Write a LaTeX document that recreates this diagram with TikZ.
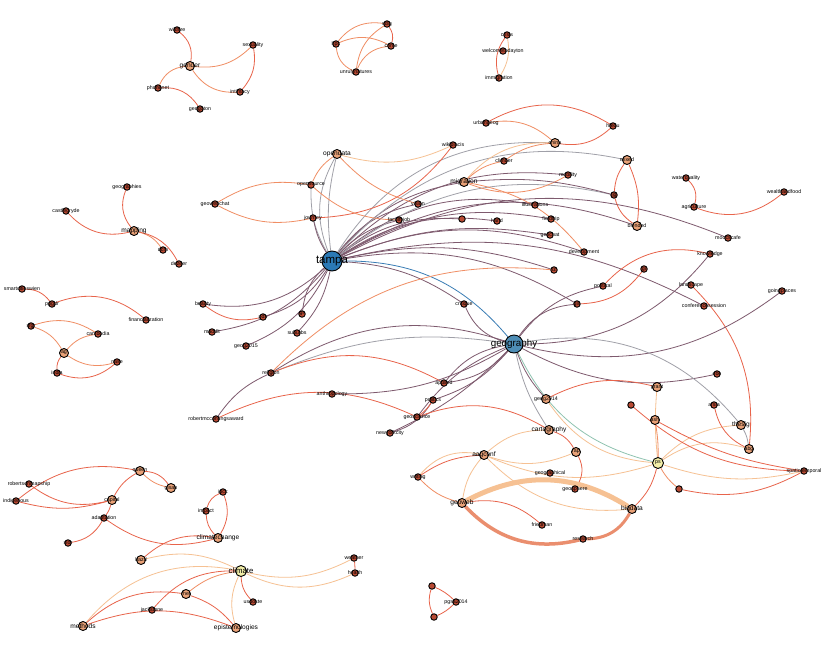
\documentclass[tikz,border=0pt]{standalone}
\usepackage{fontspec}
\setmainfont{Liberation Sans}
\pgfdeclarelayer{bg}
\pgfsetlayers{bg,main}
\definecolor{dnode}{HTML}{B84A33}
\definecolor{lnode}{HTML}{E9A177}
\definecolor{ynode}{HTML}{F3EFA8}
\definecolor{tnode}{HTML}{2B79B5}
\definecolor{gnode}{HTML}{4E8DB5}
\definecolor{cR}{HTML}{E8644B}
\definecolor{cO}{HTML}{F08E64}
\definecolor{cP}{HTML}{F6C193}
\definecolor{cV}{HTML}{7E5A6E}
\definecolor{cG}{HTML}{A0A0A8}
\definecolor{cB}{HTML}{3A7DB5}
\definecolor{cT}{HTML}{8FC3B0}
\definecolor{cK}{HTML}{EA8E6E}
\tikzset{
 dn/.style={circle, draw=black, line width=0.9pt, fill=dnode, inner sep=0pt, minimum size=6.5pt},
 ln/.style={dn, fill=lnode, minimum size=9pt},
 yn/.style={dn, fill=ynode, minimum size=11pt},
 tn/.style={dn, fill=tnode, minimum size=20pt},
 gn/.style={dn, fill=gnode, minimum size=18pt},
 ls/.style={font=\fontsize{5.3}{6}\selectfont, inner sep=0pt},
 lm/.style={font=\fontsize{6.6}{7}\selectfont, inner sep=0pt},
 lc/.style={font=\fontsize{7.8}{8}\selectfont, inner sep=0pt},
 lt/.style={font=\fontsize{11.5}{12}\selectfont, inner sep=0pt},
 lg/.style={font=\fontsize{9.8}{10}\selectfont, inner sep=0pt},
 eR/.style={draw=cR, line width=0.8pt},
 eO/.style={draw=cO, line width=0.8pt},
 eP/.style={draw=cP, line width=0.8pt},
 eV/.style={draw=cV, line width=0.8pt},
 eG/.style={draw=cG, line width=0.8pt},
 eB/.style={draw=cB, line width=0.8pt},
 eT/.style={draw=cT, line width=0.8pt},
}
\newcommand{\nd}[5]{\node[#1] (#2) at (#3) {}; \node[#5] (#2t) at (#2) {#4};}
\newcommand{\ed}[4]{\draw[#1] (#2) to[#4] (#3);}
\begin{document}
\begin{tikzpicture}[x=1pt,y=-1pt]
\useasboundingbox (0,0) rectangle (822,651);
% ---------- nodes ----------
\nd{dn}{wildfire}{177,30}{wildfire}{ls}
\nd{ln}{gender}{190,66}{gender}{lm}
\nd{dn}{sexuality}{253,45}{sexuality}{ls}
\nd{dn}{phonenet}{158,88}{phonenet}{ls}
\nd{dn}{intimacy}{240,92}{intimacy}{ls}
\nd{dn}{geogoton}{200,109}{geogoton}{ls}
\nd{dn}{hpc}{336,44}{hpc}{ls}
\nd{dn}{sdig}{387,24}{sdig}{ls}
\nd{dn}{crime}{391,46}{crime}{ls}
\nd{dn}{unruly}{356,72}{unrulynatures}{ls}
\nd{dn}{crisis}{507,35}{crisis}{ls}
\nd{dn}{welcome}{503,51}{welcometodayton}{ls}
\nd{dn}{immig}{499,78}{immigration}{ls}
\nd{dn}{waterq}{686,178}{waterquality}{ls}
\nd{dn}{agri}{694,207}{agriculture}{ls}
\nd{dn}{wealth}{784,192}{wealthandfood}{ls}
\nd{dn}{geogs}{127,187}{geographies}{ls}
\nd{dn}{castle}{66,211}{castlegryde}{ls}
\nd{ln}{mapping}{134,231}{mapping}{lm}
\nd{dn}{dcm}{163,250}{dcm}{ls}
\nd{dn}{dezeer}{179,264}{dezeer}{ls}
\nd{dn}{smart}{22,289}{smartcitieswien}{ls}
\nd{dn}{ppgdr}{52,304}{ppgdr}{ls}
\nd{dn}{financ}{146,320}{financialization}{ls}
\nd{dn}{sfgr}{31,326}{sfgr}{ls}
\nd{dn}{cambodia}{98,334}{cambodia}{ls}
\nd{ln}{ag}{64,353}{ag}{ls}
\nd{dn}{nase}{117,362}{nase}{ls}
\nd{dn}{india}{57,373}{india}{ls}
\nd{tn}{tampa}{332,261}{tampa}{lt}
\nd{ln}{opendata}{337,154}{opendata}{lm}
\nd{dn}{opensource}{311,185}{opensource}{ls}
\nd{dn}{geowebchat}{215,204}{geowebchat}{ls}
\nd{dn}{journey}{313,218}{journey}{ls}
\nd{dn}{facultyjob}{399,220}{facultyjob}{ls}
\nd{dn}{vision}{418,204}{vision}{ls}
\nd{dn}{nfs}{462,219}{}{ls}
\nd{dn}{hand}{497,221}{hand}{ls}
\nd{dn}{illus}{535,205}{illustrations}{ls}
\nd{dn}{fieldtrip}{551,219}{fieldtrip}{ls}
\nd{dn}{geochat}{550,235}{geochat}{ls}
\nd{dn}{develop}{584,252}{development}{ls}
\nd{dn}{wiki}{453,145}{wikiplacis}{ls}
\nd{ln}{migration}{464,182}{migration}{lm}
\nd{dn}{climber}{504,161}{climber}{ls}
\nd{ln}{china}{555,143}{china}{ls}
\nd{dn}{urbangeog}{486,123}{urbangeog}{ls}
\nd{dn}{hfedu}{613,126}{hfedu}{ls}
\nd{dn}{mobility}{568,175}{mobility}{ls}
\nd{dn}{ijg}{614,195}{ijg}{ls}
\nd{ln}{mixed}{627,160}{mixed}{ls}
\nd{ln}{blended}{637,226}{blended}{ls}
\nd{dn}{moocs}{728,238}{moocscafe}{ls}
\nd{dn}{knowledge}{710,254}{knowledge}{ls}
\nd{dn}{landscape}{691,285}{landscape}{ls}
\nd{dn}{confsess}{704,306}{conferencesession}{ls}
\nd{dn}{going}{782,291}{goingplaces}{ls}
\nd{dn}{gi}{644,269}{gi}{ls}
\nd{dn}{political}{603,286}{political}{ls}
\nd{dn}{gis}{577,304}{gis}{ls}
\nd{dn}{iz}{554,270}{iz}{ls}
\nd{dn}{critique}{464,304}{critique}{ls}
\nd{dn}{beauty}{203,304}{beauty}{ls}
\nd{dn}{pdx}{263,317}{pdx}{ls}
\nd{dn}{gr}{302,314}{gr}{ls}
\nd{dn}{maddlt}{212,332}{maddlt}{ls}
\nd{dn}{suburbs}{297,333}{suburbs}{ls}
\nd{dn}{geogfifteen}{246,346}{geog2015}{ls}
\nd{dn}{religion}{271,373}{religion}{ls}
\nd{dn}{robert}{216,419}{robertmccontingsaward}{ls}
\nd{dn}{anthro}{332,394}{anthropology}{ls}
\nd{gn}{geography}{514,344}{geography}{lg}
\nd{dn}{applied}{444,383}{applied}{ls}
\nd{dn}{politics}{433,400}{politics}{ls}
\nd{dn}{geosci}{417,417}{geoscience}{ls}
\nd{dn}{nyc}{390,433}{newyorkcity}{ls}
\nd{ln}{geogfourteen}{546,399}{geog2014}{ls}
\nd{ln}{carto}{549,430}{cartography}{lm}
\nd{ln}{grant}{657,387}{grant}{ls}
\nd{dn}{ebe}{717,374}{ebe}{ls}
\nd{dn}{nsix}{631,405}{}{ls}
\nd{dn}{arsia}{714,405}{arsia}{ls}
\nd{ln}{ash}{655,420}{ash}{ls}
\nd{ln}{thesig}{741,425}{thesig}{lm}
\nd{ln}{abg}{749,449}{abg}{ls}
\nd{yn}{ps}{658,463}{ps}{ls}
\nd{dn}{nseven}{679,489}{}{ls}
\nd{dn}{spatio}{804,471}{spatiotemporal}{ls}
\nd{ln}{bigdata}{632,509}{bigdata}{lm}
\nd{ln}{aagconf}{484,455}{aagconf}{lm}
\nd{ln}{rap}{576,452}{rap}{ls}
\nd{dn}{writing}{418,477}{writing}{ls}
\nd{dn}{geographical}{550,473}{geographical}{ls}
\nd{dn}{geosphere}{575,489}{geosphere}{ls}
\nd{ln}{geoweb}{462,503}{geoweb}{lm}
\nd{dn}{friedman}{542,525}{friedman}{ls}
\nd{dn}{research}{583,539}{research}{ls}
\nd{dn}{pone}{432,586}{}{ls}
\nd{dn}{pgsa}{456,602}{pgsa2014}{ls}
\nd{dn}{pthree}{434,617}{}{ls}
\nd{ln}{queen}{140,471}{queen}{ls}
\nd{ln}{gisah}{171,488}{gisah}{ls}
\nd{dn}{robsn}{29,484}{robertsonmapship}{ls}
\nd{dn}{indig}{16,501}{indigenous}{ls}
\nd{ln}{capital}{112,500}{capital}{ls}
\nd{dn}{adapt}{104,518}{adaptation}{ls}
\nd{dn}{slor}{68,543}{slor}{ls}
\nd{dn}{ipcc}{223,492}{ipcc}{ls}
\nd{dn}{impact}{206,511}{impact}{ls}
\nd{ln}{climch}{218,538}{climatechange}{lm}
\nd{ln}{hazd}{141,560}{hazd}{ls}
\nd{yn}{climate}{241,571}{climate}{lc}
\nd{dn}{weather}{354,558}{weather}{ls}
\nd{dn}{health}{355,573}{health}{ls}
\nd{ln}{rhet}{186,594}{rhet}{ls}
\nd{dn}{jack}{152,610}{jackstone}{ls}
\nd{ln}{methods}{83,626}{methods}{lm}
\nd{dn}{usdoste}{253,602}{usdoste}{ls}
\nd{ln}{episte}{236,628}{epistemologies}{lm}
% ---------- edges ----------
\begin{pgfonlayer}{bg}
\fill[white] (0,0) rectangle (822,651);
% cluster 1
\ed{eR}{wildfire}{gender}{bend left=30}
\ed{eO}{gender}{phonenet}{bend right=30}
\ed{eR}{phonenet}{geogoton}{bend left=30}
\ed{eO}{gender}{sexuality}{bend right=25}
\ed{eO}{gender}{intimacy}{bend right=30}
\ed{eR}{sexuality}{intimacy}{bend left=25}
% cluster 2
\ed{eO}{hpc}{sdig}{bend left=30}
\ed{eO}{hpc}{crime}{bend left=25}
\ed{eO}{hpc}{unruly}{bend right=30}
\ed{eR}{sdig}{crime}{bend left=25}
\ed{eO}{sdig}{unruly}{bend right=25}
\ed{eO}{crime}{unruly}{bend right=30}
% cluster 3
\ed{eR}{crisis}{immig}{bend right=25}
\ed{eP}{crisis}{immig}{bend left=20}
% right top
\ed{eR}{waterq}{agri}{bend left=30}
\ed{eR}{agri}{wealth}{bend right=30}
% mapping
\ed{eR}{geogs}{mapping}{bend right=30}
\ed{eR}{castle}{mapping}{bend right=30}
\ed{eO}{mapping}{dcm}{bend left=20}
\ed{eR}{mapping}{dezeer}{bend left=25}
\ed{eR}{smart}{ppgdr}{bend left=25}
\ed{eR}{ppgdr}{financ}{bend left=30}
\ed{eO}{sfgr}{ag}{bend left=20}
\ed{eO}{sfgr}{cambodia}{bend left=25}
\ed{eO}{ag}{cambodia}{bend left=20}
\ed{eO}{ag}{nase}{bend right=25}
\ed{eR}{ag}{india}{bend right=20}
\ed{eR}{india}{nase}{bend right=30}
% lower left
\ed{eR}{indig}{queen}{bend left=25}
\ed{eR}{robsn}{capital}{bend right=25}
\ed{eR}{indig}{capital}{bend right=15}
\ed{eR}{queen}{gisah}{bend left=25}
\ed{eO}{queen}{gisah}{bend right=15}
\ed{eR}{queen}{capital}{bend right=15}
\ed{eR}{capital}{adapt}{bend left=10}
\ed{eR}{adapt}{slor}{bend left=25}
\ed{eR}{adapt}{climch}{bend right=25}
\ed{eR}{ipcc}{impact}{bend right=25}
\ed{eR}{ipcc}{climch}{bend left=25}
\ed{eR}{impact}{climch}{bend right=20}
\ed{eR}{hazd}{climch}{bend left=25}
\ed{eP}{hazd}{climate}{bend left=20}
\ed{eP}{methods}{climate}{bend left=30}
\ed{eR}{methods}{rhet}{bend left=25}
\ed{eR}{methods}{episte}{bend left=20}
\ed{eR}{jack}{climate}{bend left=25}
\ed{eO}{rhet}{climate}{bend left=15}
\ed{eR}{rhet}{episte}{bend left=15}
\ed{eP}{climate}{weather}{bend right=20}
\ed{eP}{climate}{health}{bend right=25}
\ed{eR}{weather}{health}{bend left=5}
\ed{eR}{climate}{usdoste}{bend right=20}
\ed{eP}{climate}{episte}{bend right=20}
% tampa
\ed{eG}{tampa}{opendata}{bend left=10}
\ed{eG}{tampa}{opendata}{bend left=25}
\ed{eG}{tampa}{opensource}{bend left=15}
\ed{eV}{tampa}{journey}{bend left=10}
\ed{eV}{tampa}{facultyjob}{bend left=15}
\ed{eV}{tampa}{vision}{bend left=20}
\ed{eV}{tampa}{nfs}{bend left=20}
\ed{eV}{tampa}{hand}{bend left=20}
\ed{eV}{tampa}{illus}{bend left=25}
\ed{eV}{tampa}{fieldtrip}{bend left=20}
\ed{eV}{tampa}{geochat}{bend left=15}
\ed{eV}{tampa}{develop}{bend left=20}
\ed{eV}{tampa}{migration}{bend left=20}
\ed{eV}{tampa}{mobility}{bend left=25}
\ed{eG}{tampa}{china}{bend left=30}
\ed{eG}{tampa}{mixed}{bend left=30}
\ed{eG}{tampa}{ijg}{bend left=25}
\ed{eV}{tampa}{blended}{bend left=25}
\ed{eV}{tampa}{moocs}{bend left=25}
\ed{eV}{tampa}{confsess}{bend left=20}
\ed{eV}{tampa}{iz}{bend left=15}
\ed{eV}{tampa}{gis}{bend left=20}
\ed{eV}{tampa}{critique}{bend left=15}
\ed{eB}{tampa}{geography}{bend left=25}
\ed{eV}{tampa}{beauty}{bend left=25}
\ed{eV}{tampa}{pdx}{bend left=20}
\ed{eV}{tampa}{maddlt}{bend left=20}
\ed{eV}{tampa}{geogfifteen}{bend left=20}
\ed{eV}{tampa}{gr}{bend right=20}
\ed{eV}{tampa}{suburbs}{bend left=15}
\ed{eR}{beauty}{pdx}{bend right=25}
% upper orange
\ed{eO}{opendata}{opensource}{bend right=15}
\ed{eO}{geowebchat}{opensource}{bend left=20}
\ed{eO}{geowebchat}{journey}{bend right=20}
\ed{eR}{journey}{wiki}{bend right=25}
\ed{eP}{opendata}{wiki}{bend right=20}
\ed{eO}{opendata}{vision}{bend right=15}
\ed{eO}{opensource}{facultyjob}{bend right=20}
% migration region
\ed{eP}{migration}{china}{bend left=25}
\ed{eO}{migration}{climber}{bend left=15}
\ed{eO}{climber}{china}{bend left=15}
\ed{eO}{migration}{mobility}{bend right=25}
\ed{eO}{migration}{develop}{bend left=20}
\ed{eO}{urbangeog}{china}{bend left=25}
\ed{eR}{urbangeog}{hfedu}{bend left=30}
\ed{eR}{china}{hfedu}{bend right=25}
\ed{eV}{migration}{ijg}{bend left=10}
\ed{eR}{mixed}{blended}{bend left=15}
\ed{eR}{mixed}{ijg}{bend right=15}
\ed{eR}{ijg}{blended}{bend right=20}
% right middle
\ed{eR}{political}{knowledge}{bend left=30}
\ed{eR}{gis}{gi}{bend right=25}
\ed{eR}{landscape}{abg}{bend left=25}
\ed{eV}{knowledge}{geography}{bend left=25}
\ed{eV}{geography}{going}{bend right=25}
\ed{eV}{geography}{ebe}{bend right=20}
\ed{eG}{geography}{thesig}{bend left=30}
\ed{eT}{geography}{ps}{bend right=25}
\ed{eG}{thesig}{abg}{bend left=10}
\ed{eV}{geography}{political}{bend left=20}
\ed{eV}{geography}{gis}{bend left=25}
\ed{eV}{critique}{geography}{bend right=25}
\ed{eV}{geography}{geogfourteen}{bend right=10}
\ed{eG}{geography}{carto}{bend right=10}
\ed{eV}{geography}{applied}{bend left=20}
\ed{eV}{applied}{geography}{bend left=20}
\ed{eV}{geography}{politics}{bend left=15}
\ed{eV}{geography}{geosci}{bend right=15}
\ed{eV}{geography}{nyc}{bend left=10}
\ed{eV}{nyc}{politics}{bend right=20}
\ed{eR}{politics}{geosci}{bend left=10}
\ed{eR}{geosci}{carto}{bend left=25}
\ed{eV}{religion}{geography}{bend left=25}
\ed{eG}{religion}{geography}{bend left=15}
\ed{eO}{religion}{iz}{bend left=25}
\ed{eR}{religion}{applied}{bend left=25}
\ed{eV}{religion}{robert}{bend right=15}
\ed{eR}{robert}{geosci}{bend left=25}
\ed{eV}{anthro}{geography}{bend right=15}
% lower right
\ed{eR}{geogfourteen}{grant}{bend left=20}
\ed{eP}{geogfourteen}{ps}{bend right=25}
\ed{eP}{ps}{grant}{bend left=5}
\ed{eO}{ps}{ash}{bend right=5}
\ed{eP}{ps}{thesig}{bend left=20}
\ed{eP}{ps}{abg}{bend left=25}
\ed{eP}{ps}{spatio}{bend right=15}
\ed{eR}{nseven}{spatio}{bend right=20}
\ed{eO}{ps}{nseven}{bend right=10}
\ed{eR}{nsix}{spatio}{bend right=20}
\ed{eR}{ash}{spatio}{bend right=10}
\ed{eR}{arsia}{abg}{bend right=25}
\ed{eR}{bigdata}{ps}{bend right=15}
\ed{eR}{carto}{rap}{bend left=20}
\ed{eP}{carto}{aagconf}{bend right=20}
\ed{eP}{aagconf}{writing}{bend right=30}
\ed{eR}{aagconf}{writing}{bend right=15}
\ed{eP}{aagconf}{geoweb}{bend right=15}
\ed{eP}{aagconf}{rap}{bend right=20}
\ed{eP}{aagconf}{ps}{bend right=20}
\ed{eP}{aagconf}{bigdata}{bend right=25}
\ed{eO}{writing}{geoweb}{bend right=15}
\ed{eR}{geoweb}{friedman}{bend left=25}
\ed{eR}{rap}{geosphere}{bend left=30}
\draw[draw=cP, line width=5pt] (geoweb) to[bend left=30] (bigdata);
\draw[draw=cK, line width=3.5pt] (geoweb) to[bend right=30] (research);
\draw[draw=cK, line width=3pt] (research) to[bend right=30] (bigdata);
% small cluster
\ed{eR}{pone}{pgsa}{bend left=10}
\ed{eR}{pone}{pthree}{bend right=20}
\ed{eR}{pgsa}{pthree}{bend left=10}
\end{pgfonlayer}
\end{tikzpicture}
\end{document}
